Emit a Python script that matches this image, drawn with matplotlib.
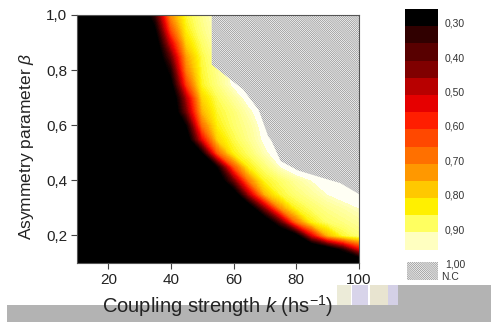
#!/usr/bin/env python

import numpy as np
import matplotlib
matplotlib.use("Agg")
import matplotlib.pyplot as plt
import matplotlib.colors as colors
from matplotlib.patches import Polygon, Rectangle
from matplotlib.ticker import FuncFormatter

# ---------------- data
# coupling strength k (hs^-1), grid columns
k_values = [10, 15, 20, 25, 30, 35, 40, 45, 50, 55, 60, 65, 70, 75, 80, 85, 90, 95, 100]
# asymmetry parameter beta, grid rows
beta_values = [0.10, 0.15, 0.20, 0.25, 0.30, 0.35, 0.40, 0.45, 0.50, 0.55,
               0.60, 0.65, 0.70, 0.75, 0.80, 0.85, 0.90, 0.95, 1.00]

# one list per beta row (same order as beta_values)
z_rows = [
    [0.01, 0.01, 0.01, 0.01, 0.01, 0.01, 0.01, 0.01, 0.01, 0.01, 0.01, 0.01, 0.02, 0.02, 0.02, 0.03, 0.03, 0.04, 0.05],
    [0.01, 0.01, 0.01, 0.01, 0.01, 0.01, 0.01, 0.01, 0.02, 0.02, 0.02, 0.03, 0.03, 0.04, 0.04, 0.05, 0.14, 0.30, 0.52],
    [0.01, 0.01, 0.01, 0.01, 0.01, 0.02, 0.02, 0.02, 0.03, 0.03, 0.04, 0.04, 0.05, 0.08, 0.20, 0.52, 0.76, 0.86, 0.90],
    [0.01, 0.01, 0.01, 0.01, 0.02, 0.02, 0.02, 0.03, 0.03, 0.04, 0.05, 0.06, 0.14, 0.38, 0.68, 0.84, 0.89, 0.91, 0.93],
    [0.01, 0.01, 0.01, 0.02, 0.02, 0.02, 0.03, 0.03, 0.04, 0.05, 0.06, 0.16, 0.44, 0.72, 0.85, 0.89, 0.92, 0.94, 0.96],
    [0.01, 0.01, 0.02, 0.02, 0.02, 0.03, 0.03, 0.04, 0.05, 0.06, 0.16, 0.48, 0.76, 0.86, 0.90, 0.93, 0.96, 0.98, 0.99],
    [0.01, 0.02, 0.02, 0.02, 0.03, 0.03, 0.04, 0.05, 0.06, 0.16, 0.40, 0.70, 0.85, 0.89, 0.93, 0.96, 0.99, 1.00, 1.00],
    [0.02, 0.02, 0.02, 0.03, 0.03, 0.04, 0.05, 0.07, 0.12, 0.28, 0.64, 0.84, 0.90, 0.96, 1.00, 1.00, 1.00, 1.00, 1.00],
    [0.02, 0.02, 0.03, 0.03, 0.04, 0.05, 0.06, 0.09, 0.26, 0.66, 0.84, 0.89, 0.95, 0.99, 1.00, 1.00, 1.00, 1.00, 1.00],
    [0.02, 0.03, 0.03, 0.04, 0.05, 0.06, 0.08, 0.18, 0.54, 0.80, 0.87, 0.92, 0.97, 1.00, 1.00, 1.00, 1.00, 1.00, 1.00],
    [0.02, 0.03, 0.03, 0.04, 0.05, 0.06, 0.09, 0.27, 0.68, 0.84, 0.89, 0.93, 0.98, 1.00, 1.00, 1.00, 1.00, 1.00, 1.00],
    [0.03, 0.03, 0.04, 0.05, 0.06, 0.07, 0.12, 0.42, 0.76, 0.86, 0.90, 0.95, 0.99, 1.00, 1.00, 1.00, 1.00, 1.00, 1.00],
    [0.03, 0.03, 0.04, 0.05, 0.06, 0.08, 0.14, 0.48, 0.80, 0.88, 0.93, 0.98, 1.00, 1.00, 1.00, 1.00, 1.00, 1.00, 1.00],
    [0.03, 0.04, 0.04, 0.05, 0.06, 0.09, 0.22, 0.62, 0.85, 0.91, 0.97, 1.00, 1.00, 1.00, 1.00, 1.00, 1.00, 1.00, 1.00],
    [0.03, 0.04, 0.05, 0.05, 0.07, 0.12, 0.30, 0.70, 0.86, 0.92, 0.97, 1.00, 1.00, 1.00, 1.00, 1.00, 1.00, 1.00, 1.00],
    [0.04, 0.04, 0.05, 0.06, 0.07, 0.14, 0.40, 0.74, 0.87, 0.93, 0.98, 1.00, 1.00, 1.00, 1.00, 1.00, 1.00, 1.00, 1.00],
    [0.04, 0.05, 0.05, 0.06, 0.08, 0.18, 0.52, 0.80, 0.89, 0.95, 1.00, 1.00, 1.00, 1.00, 1.00, 1.00, 1.00, 1.00, 1.00],
    [0.04, 0.05, 0.06, 0.07, 0.09, 0.25, 0.64, 0.84, 0.91, 0.96, 1.00, 1.00, 1.00, 1.00, 1.00, 1.00, 1.00, 1.00, 1.00],
    [0.05, 0.05, 0.06, 0.07, 0.12, 0.34, 0.72, 0.86, 0.92, 0.97, 1.00, 1.00, 1.00, 1.00, 1.00, 1.00, 1.00, 1.00, 1.00],
]

# border of the not-converged (N.C) region
nc_k = [53, 53, 58, 63, 68, 71, 72, 75, 80.5, 88, 94, 100, 100]
nc_beta = [1.0, 0.82, 0.775, 0.73, 0.655, 0.56, 0.545, 0.47, 0.436, 0.41, 0.39, 0.35, 1.0]

# colour levels of the scale
levels = [0.26, 0.31, 0.36, 0.41, 0.46, 0.51, 0.56, 0.61, 0.66, 0.71, 0.76, 0.81, 0.86, 0.91, 0.96]
scale_ticks = [0.30, 0.40, 0.50, 0.60, 0.70, 0.80, 0.90, 1.00]
level_colors = ['#000000', '#300000', '#580000', '#800000', '#b80000', '#e60000', '#ff1e00',
                '#ff4800', '#ff7000', '#ff9800', '#ffc800', '#fff000', '#ffff60', '#ffffc0']

# ---------------- style
plt.rcParams['font.family'] = 'Liberation Sans'
plt.rcParams['mathtext.fontset'] = 'custom'
plt.rcParams['mathtext.rm'] = 'Liberation Sans'
plt.rcParams['mathtext.it'] = 'Liberation Sans:italic'
plt.rcParams['hatch.linewidth'] = 0.5
plt.rcParams['hatch.color'] = '#8c8c8c'

HATCH = '\\' * 16

# stepped map for the scale, smooth one for the surface
cmap = colors.ListedColormap(level_colors)
cmap.set_under('#000000')
cmap.set_over('#fffff4')
norm = colors.BoundaryNorm(levels, cmap.N)

centers = [(a + b) / 2 for a, b in zip(levels[:-1], levels[1:])]
smooth = colors.LinearSegmentedColormap.from_list(
    'smooth', [((c - levels[0]) / (levels[-1] - levels[0]), col) for c, col in
               zip([levels[0]] + centers[1:-1] + [levels[-1]], level_colors)])
smooth.set_under('#000000')
smooth.set_over('#fffff4')

comma = lambda fmt: FuncFormatter(lambda v, pos: (fmt % v).replace('.', ','))

fig = plt.figure(figsize=(4.91, 3.22), dpi=100)

# scan artefacts at the bottom of the picture
fig.patches.append(Rectangle((7 / 491, 0), 484 / 491, 17 / 322, transform=fig.transFigure,
                             facecolor='#b3b3b3', edgecolor='none', zorder=-2))
fig.patches.append(Rectangle((398 / 491, 17 / 322), 93 / 491, 20 / 322, transform=fig.transFigure,
                             facecolor='#b3b3b3', edgecolor='none', zorder=-2))
for x0, w, c in [(337, 14, '#ecebd8'), (352, 16, '#d8d4ea'), (370, 18, '#e8e4d0'), (388, 10, '#d4d0e6')]:
    fig.patches.append(Rectangle((x0 / 491, 17 / 322), w / 491, 20 / 322, transform=fig.transFigure,
                                 facecolor=c, edgecolor='none', zorder=-2))

# ---------------- main map
ax = fig.add_axes([77 / 491, 59 / 322, 282 / 491, 248 / 322])
K, B = np.meshgrid(k_values, beta_values)
Z = np.array(z_rows)
ax.contourf(K, B, Z, levels=np.linspace(levels[0], levels[-1], 71),
            cmap=smooth, extend='both')

nc = Polygon(list(zip(nc_k, nc_beta)), closed=True, facecolor='white',
             edgecolor='#8c8c8c', linewidth=0, hatch=HATCH, zorder=3)
ax.add_patch(nc)

ax.set_xlim(10, 100)
ax.set_ylim(0.1, 1.0)
ax.set_xticks([20, 40, 60, 80, 100])
ax.set_yticks([0.2, 0.4, 0.6, 0.8, 1.0])
ax.yaxis.set_major_formatter(comma('%.1f'))
ax.tick_params(direction='out', length=4, width=0.8, labelsize=11, color='#444444',
               labelcolor='#222222', pad=3)
for sp in ax.spines.values():
    sp.set_color('#555555')
    sp.set_linewidth(0.8)
    sp.set_zorder(5)

ax.set_ylabel(r'Asymmetry parameter $\it{\beta}$', fontsize=12.5, color='#222222')
ax.set_xlabel(r'Coupling strength $\it{k}$ (hs$^{-1}$)', fontsize=14.5, color='#222222')
ax.xaxis.set_label_coords(0.5, -0.12)
ax.yaxis.set_label_coords(-0.145, 0.47)

# ---------------- colour scale
cax = fig.add_axes([405 / 491, 40 / 322, 33 / 491, 273 / 322])
cax.pcolormesh([0, 1], levels, np.array(centers).reshape(-1, 1), cmap=cmap, norm=norm)
cax.add_patch(Rectangle((0.06, 0.996), 0.94, 0.052, facecolor='white',
                        edgecolor='#8c8c8c', linewidth=0, hatch=HATCH))
cax.set_xlim(0, 1)
cax.set_ylim(1.054, 0.26)
cax.set_xticks([])
cax.set_yticks(scale_ticks)
cax.yaxis.set_major_formatter(comma('%.2f'))
cax.yaxis.tick_right()
cax.tick_params(axis='y', length=0, labelsize=7.5, pad=5, labelcolor='#333333')
for sp in cax.spines.values():
    sp.set_visible(False)
cax.text(1.1, 1.04, 'N.C', fontsize=7.5, color='#333333', va='center', ha='left')

fig.savefig('out.png', dpi=100)
